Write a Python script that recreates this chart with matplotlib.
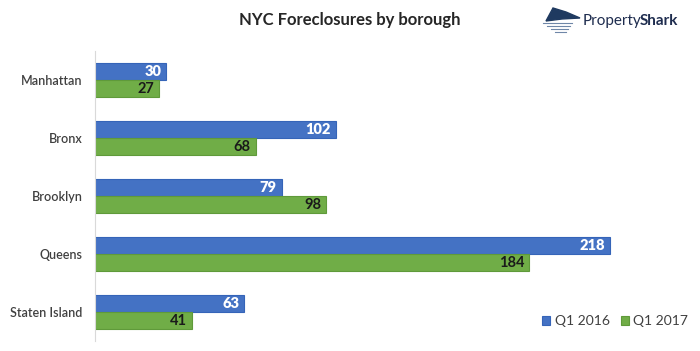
import matplotlib.pyplot as plt
import numpy as np
from matplotlib.patches import Polygon

boroughs = ['Manhattan', 'Bronx', 'Brooklyn', 'Queens', 'Staten Island']
q1_2016 = [30, 102, 79, 218, 63]
q1_2017 = [27, 68, 98, 184, 41]

plt.rcParams['font.family'] = ['Lato', 'DejaVu Sans']

fig = plt.figure(figsize=(7, 3.51), dpi=100)
ax = fig.add_axes([95/700, 10/351, 595/700, 290/351])

y = np.arange(len(boroughs))
h = 0.3
b1 = ax.barh(y - h/2, q1_2016, height=h, color='#4472C4', edgecolor='#3564b8', linewidth=0.8, label='Q1 2016')
b2 = ax.barh(y + h/2, q1_2017, height=h, color='#70AD47', edgecolor='#5f9a3a', linewidth=0.8, label='Q1 2017')

for i in range(len(boroughs)):
    ax.text(q1_2016[i] - 2, y[i] - h/2, str(q1_2016[i]), ha='right', va='center',
            color='white', fontsize=10.5, fontweight='heavy')
    ax.text(q1_2017[i] - 2, y[i] + h/2, str(q1_2017[i]), ha='right', va='center',
            color='#1a1a1a', fontsize=10.5, fontweight='bold')

ax.set_xlim(0, 252)
ax.set_ylim(4.5, -0.5)
ax.set_yticks(y)
ax.set_yticklabels(boroughs, fontsize=9, color='#404040', fontweight='semibold')
ax.tick_params(axis='y', length=0, pad=9)
ax.set_xticks([])
for s in ['top', 'right', 'bottom']:
    ax.spines[s].set_visible(False)
ax.spines['left'].set_color('#d9d9d9')

fig.text(350/700, 1 - 20/351, 'NYC Foreclosures by borough', ha='center', va='center',
         fontsize=12, fontweight='bold', color='#262626')

# logo: fin + streaks + wordmark
fin = Polygon([[546/700, 1 - 21/351], [553/700, 1 - 8/351], [566/700, 1 - 12/351],
               [580/700, 1 - 18/351], [562/700, 1 - 19/351]], closed=True,
              transform=fig.transFigure, color='#1f3a60')
fig.patches.append(fin)
for k in range(4):
    yy = 1 - (23 + k * 3) / 351
    fig.lines.append(plt.Line2D([(543 + k * 4)/700, (572 - k * 2)/700], [yy, yy],
                                transform=fig.transFigure, color='#6f87a8', lw=0.8))
t1 = fig.text(583/700, 1 - 21/351, 'Property', ha='left', va='center', fontsize=11,
              color='#1f2d4f')
r = fig.canvas.get_renderer()
bb = t1.get_window_extent(renderer=r)
fig.text(bb.x1/700 - 2/700, 1 - 21/351, 'Shark', ha='left', va='center', fontsize=11,
         color='#1f2d4f', fontweight='bold')

leg = fig.legend(handles=[b1, b2], loc='center', bbox_to_anchor=(615/700, 1 - 321/351),
                 ncol=2, frameon=False, fontsize=10, handlelength=0.6, handleheight=0.6,
                 handletextpad=0.3, columnspacing=0.8)
for t in leg.get_texts():
    t.set_color('#404040')

fig.savefig('out.png', dpi=100)
